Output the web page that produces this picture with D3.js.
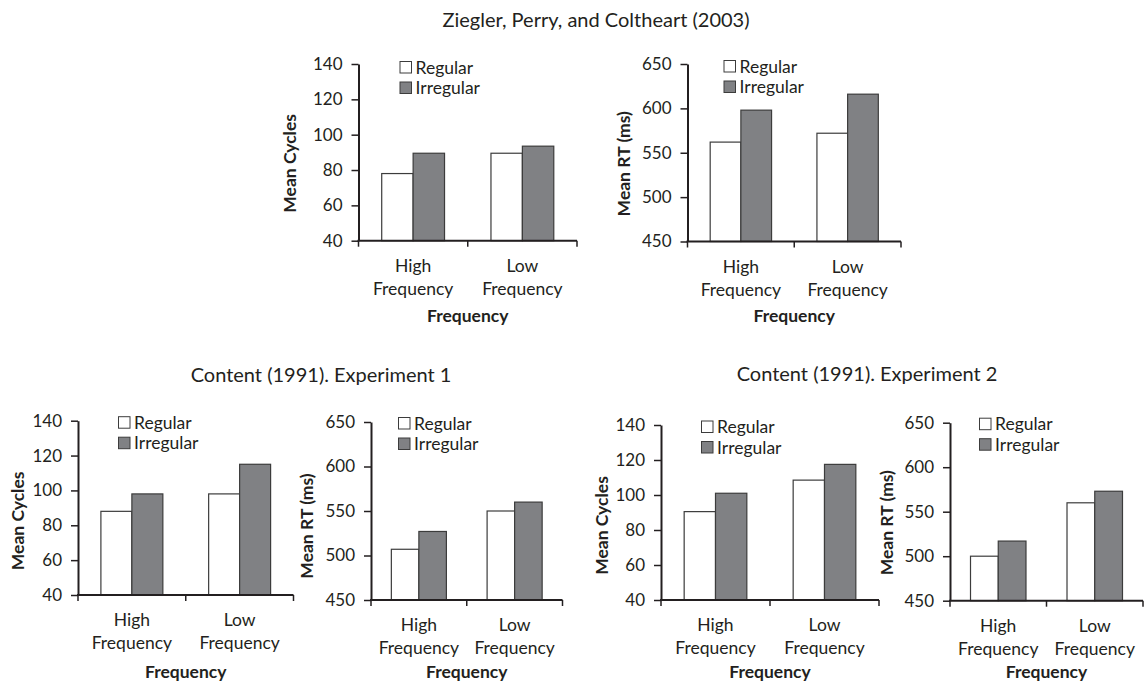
<!DOCTYPE html>
<html>
<head>
<meta charset="utf-8">
<script src="https://cdn.jsdelivr.net/npm/d3@7"></script>
<style>
  body { margin: 0; background: #ffffff; }
  text { font-family: Lato, "Open Sans", sans-serif; fill: #231f20; }
</style>
</head>
<body>
<svg id="chart" width="1144" height="684"></svg>
<script>
// ---- data ----
const categories = ["High Frequency", "Low Frequency"];
const categoryLines = [["High", "Frequency"], ["Low", "Frequency"]];
const seriesNames = ["Regular", "Irregular"];
const xAxisTitle = "Frequency";

const cyclesTitle = "Mean Cycles";
const rtTitle = "Mean RT (ms)";
const cyclesTicks = [40, 60, 80, 100, 120, 140];
const rtTicks = [450, 500, 550, 600, 650];

const groupTitles = [
  "Ziegler, Perry, and Coltheart (2003)",
  "Content (1991). Experiment 1",
  "Content (1991). Experiment 2"
];

// Ziegler, Perry, and Coltheart (2003)
const zpcCyclesRegular = [78, 89.5];
const zpcCyclesIrregular = [89.5, 93.5];
const zpcRtRegular = [562, 572];
const zpcRtIrregular = [598, 616];

// Content (1991), Experiment 1
const exp1CyclesRegular = [88, 98];
const exp1CyclesIrregular = [98, 115];
const exp1RtRegular = [507, 550];
const exp1RtIrregular = [527, 560];

// Content (1991), Experiment 2
const exp2CyclesRegular = [90.5, 108.5];
const exp2CyclesIrregular = [101, 117.5];
const exp2RtRegular = [500, 560];
const exp2RtIrregular = [517, 573];

// ---- layout ----
const panels = [
  { reg: zpcCyclesRegular,  irr: zpcCyclesIrregular,  ticks: cyclesTicks, title: cyclesTitle,
    xL: 358.5, xR: 577,   yT: 64,    yB: 240.7, titleDx: -69, titleDy: 11, legDx: 41, legDy: -3, xtDy: 81 },
  { reg: zpcRtRegular,      irr: zpcRtIrregular,      ticks: rtTicks,     title: rtTitle,
    xL: 687.5, xR: 901,   yT: 64,    yB: 241.5, titleDx: -64, titleDy: 11, legDx: 36, legDy: -4, xtDy: 80 },
  { reg: exp1CyclesRegular, irr: exp1CyclesIrregular, ticks: cyclesTicks, title: cyclesTitle,
    xL: 78,    xR: 293.5, yT: 420.7, yB: 595,   titleDx: -60, titleDy: 13, legDx: 40, legDy: -4.5, xtDy: 83 },
  { reg: exp1RtRegular,     irr: exp1RtIrregular,     ticks: rtTicks,     title: rtTitle,
    xL: 371,   xR: 562.5, yT: 422,   yB: 600,   titleDx: -64, titleDy: 15, legDx: 27, legDy: -5, xtDy: 78 },
  { reg: exp2CyclesRegular, irr: exp2CyclesIrregular, ticks: cyclesTicks, title: cyclesTitle,
    xL: 661,   xR: 879,   yT: 425,   yB: 600,   titleDx: -59, titleDy: 13, legDx: 40, legDy: -4.5, xtDy: 78 },
  { reg: exp2RtRegular,     irr: exp2RtIrregular,     ticks: rtTicks,     title: rtTitle,
    xL: 950,   xR: 1143,  yT: 422.7, yB: 600.7, titleDx: -63, titleDy: 11, legDx: 29, legDy: -5, xtDy: 77.5 }
];

const groupTitlePos = [
  { x: 596, y: 27 },
  { x: 321, y: 382 },
  { x: 867, y: 381 }
];

const ink = "#231f20";
const fills = { Regular: "#ffffff", Irregular: "#808184" };
const fontStack = "Lato, 'Open Sans', sans-serif";

const svg = d3.select("#chart");

// group titles
svg.selectAll("text.group-title")
  .data(groupTitles)
  .join("text")
  .attr("class", "group-title")
  .attr("x", (d, i) => groupTitlePos[i].x)
  .attr("y", (d, i) => groupTitlePos[i].y)
  .attr("text-anchor", "middle")
  .style("font-size", "20px")
  .text(d => d);

panels.forEach(p => {
  const g = svg.append("g");
  const lo = p.ticks[0], hi = p.ticks[p.ticks.length - 1];

  const y = d3.scaleLinear().domain([lo, hi]).range([p.yB, p.yT]);
  const x0 = d3.scaleBand().domain(categories).range([p.xL, p.xR])
    .paddingInner(0.425).paddingOuter(0.2125);
  const x1 = d3.scaleBand().domain(seriesNames).range([0, x0.bandwidth()]);

  const rows = categories.map((c, i) => ({
    cat: c,
    vals: [{ s: "Regular", v: p.reg[i] }, { s: "Irregular", v: p.irr[i] }]
  }));

  // bars
  g.selectAll("g.cat")
    .data(rows)
    .join("g")
    .attr("class", "cat")
    .attr("transform", d => `translate(${x0(d.cat)},0)`)
    .selectAll("rect")
    .data(d => d.vals)
    .join("rect")
    .attr("x", d => x1(d.s))
    .attr("width", x1.bandwidth())
    .attr("y", d => y(d.v))
    .attr("height", d => y(lo) - y(d.v))
    .attr("fill", d => fills[d.s])
    .attr("stroke", "#3c3c3c")
    .attr("stroke-width", 1.2);

  // y axis
  const yAxis = g.append("g")
    .attr("transform", `translate(${p.xL},0)`)
    .call(d3.axisLeft(y).tickValues(p.ticks).tickSize(7).tickSizeOuter(0).tickPadding(9));
  yAxis.select(".domain").attr("stroke", ink).attr("stroke-width", 2);
  yAxis.selectAll(".tick line").attr("stroke", ink).attr("stroke-width", 1.5);
  yAxis.selectAll(".tick text")
    .style("font-family", fontStack)
    .style("font-size", "17px")
    .attr("fill", ink);

  // x axis: line with boundary ticks between categories
  const step = x0.step();
  const bounds = d3.range(categories.length + 1).map(i => p.xL + i * step);
  g.append("line")
    .attr("x1", p.xL - 1).attr("x2", p.xR)
    .attr("y1", y(lo)).attr("y2", y(lo))
    .attr("stroke", ink).attr("stroke-width", 2);
  g.selectAll("line.xtick")
    .data(bounds)
    .join("line")
    .attr("class", "xtick")
    .attr("x1", d => d).attr("x2", d => d)
    .attr("y1", y(lo)).attr("y2", y(lo) + 6)
    .attr("stroke", ink).attr("stroke-width", 1.5);

  // category labels (two lines)
  const lab = g.selectAll("text.xlab")
    .data(categories)
    .join("text")
    .attr("class", "xlab")
    .attr("text-anchor", "middle")
    .style("font-size", "17.5px");
  lab.selectAll("tspan")
    .data((d, i) => categoryLines[i].map(t => ({ t, c: d })))
    .join("tspan")
    .attr("x", d => x0(d.c) + x0.bandwidth() / 2)
    .attr("y", (d, j) => y(lo) + 31 + j * 23)
    .text(d => d.t);

  // x axis title
  g.append("text")
    .attr("x", (p.xL + p.xR) / 2)
    .attr("y", y(lo) + p.xtDy)
    .attr("text-anchor", "middle")
    .style("font-size", "17.5px")
    .style("font-weight", "bold")
    .text(xAxisTitle);

  // y axis title
  const cx = p.xL + p.titleDx, cy = (p.yT + p.yB) / 2 + p.titleDy;
  g.append("text")
    .attr("transform", `translate(${cx},${cy}) rotate(-90)`)
    .attr("dy", "0.35em")
    .attr("text-anchor", "middle")
    .style("font-size", "17.5px")
    .style("font-weight", "bold")
    .text(p.title);

  // legend
  const leg = g.selectAll("g.leg")
    .data(seriesNames)
    .join("g")
    .attr("class", "leg")
    .attr("transform", (d, i) => `translate(${p.xL + p.legDx},${p.yT + p.legDy + i * 20.5})`);
  leg.append("rect")
    .attr("x", 0.5).attr("y", 0.5)
    .attr("width", 11.5).attr("height", 11.5)
    .attr("fill", d => fills[d])
    .attr("stroke", "#3c3c3c")
    .attr("stroke-width", 1);
  leg.append("text")
    .attr("x", 16)
    .attr("y", 12.5)
    .style("font-size", "17.5px")
    .text(d => d);
});
</script>
</body>
</html>
